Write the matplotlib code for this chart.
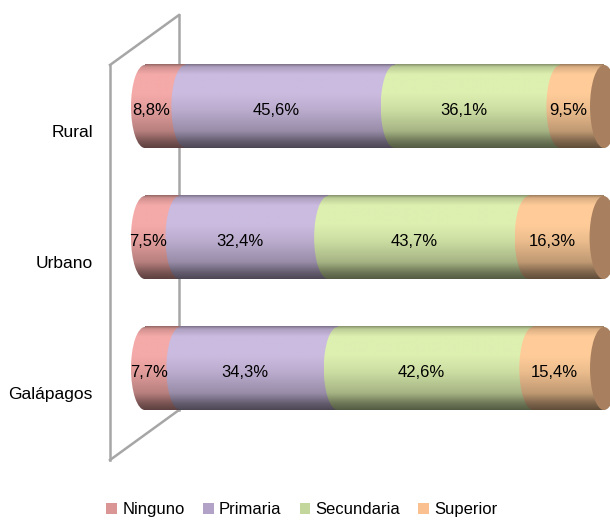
import numpy as np
import matplotlib
matplotlib.use("Agg")
import matplotlib.pyplot as plt
import matplotlib.transforms as mtransforms
from matplotlib.patches import Ellipse, Patch
from matplotlib.colors import to_rgb

plt.rcParams['font.family'] = ['Liberation Sans', 'DejaVu Sans']

# data (bottom to top)
categories = ['Galápagos', 'Urbano', 'Rural']
series = ['Ninguno', 'Primaria', 'Secundaria', 'Superior']
ninguno = [7.7, 7.5, 8.8]
primaria = [34.3, 32.4, 45.6]
secundaria = [42.6, 43.7, 36.1]
superior = [15.4, 16.3, 9.5]

bar_colors = ['#F4AAA8', '#CBBBE0', '#DDF0B0', '#FFCC99']
legend_colors = ['#D99694', '#B3A2C7', '#C3D69B', '#FAC090']
cap_color = '#A8805F'
frame_color = '#A6A6A6'

BAR_H = 0.634     # bar height in category units
HW = 3.05         # half width of the cylinder ellipse, in % units


# vertical shading of a cylinder, top row first
def shade(color, n=120):
    t = np.linspace(0, 1, n)
    knots = [0, 0.03, 0.12, 0.35, 0.55, 0.8, 0.92, 1]
    light = [-0.38, -0.15, 0, 0, -0.08, -0.25, -0.5, -0.62]
    L = np.interp(t, knots, light)
    base = np.array(to_rgb(color))
    img = base[None, :] * (1 + L)[:, None]
    return np.clip(img, 0, 1)[:, None, :]


fig = plt.figure(figsize=(6.1, 5.25), dpi=100)

# background frame (the 3D wall outline), in pixel coords
bg = fig.add_axes([0, 0, 1, 1])
bg.set_xlim(0, 610)
bg.set_ylim(525, 0)
bg.axis('off')
lw = 1.8
bg.plot([179, 179], [15, 410], color=frame_color, lw=lw)
bg.plot([110, 110], [65, 460], color=frame_color, lw=lw)
bg.plot([110, 179], [65, 15], color=frame_color, lw=lw)
bg.plot([110, 179], [460, 410], color=frame_color, lw=lw)

ax = fig.add_axes([0.1771, 0.1733, 0.8428, 0.7486])
ax.set_autoscale_on(False)
ax.set_xlim(-5, 107)
ax.set_ylim(-0.5, 2.5)
ax.axis('off')

label_tr = mtransforms.offset_copy(ax.transData, fig=fig, x=0, y=-4, units='dots')
cat_tr = mtransforms.offset_copy(ax.transData, fig=fig, x=-38, y=-26, units='dots')

values = [ninguno, primaria, secundaria, superior]
z = 2
for i, cat in enumerate(categories):
    y = i
    left = 0.0
    for j in range(len(series)):
        v = values[j][i]
        x0 = left + HW
        x1 = left + v + HW
        img = shade(bar_colors[j])
        ax.imshow(img, extent=[x0, x1, y - BAR_H / 2, y + BAR_H / 2],
                  aspect='auto', interpolation='bilinear', zorder=z)
        ell = Ellipse((x0, y), 2 * HW, BAR_H, transform=ax.transData)
        im = ax.imshow(img, extent=[x0 - HW, x0 + HW, y - BAR_H / 2, y + BAR_H / 2],
                       aspect='auto', interpolation='bilinear', zorder=z + 1)
        im.set_clip_path(ell)
        z += 2
        txt = ('%.1f' % v).replace('.', ',') + '%'
        ax.text(left + v / 2, y, txt, ha='center', va='center', fontsize=12,
                color='black', transform=label_tr, zorder=100)
        left += v
    # end face of the cylinder
    ax.add_patch(Ellipse((left + HW, y), 2 * HW, BAR_H, facecolor=cap_color,
                         edgecolor='none', zorder=z, clip_on=False))
    z += 1
    ax.text(0, y, cat, ha='right', va='center', fontsize=12.5, transform=cat_tr)

handles = [Patch(facecolor=c, edgecolor='none') for c in legend_colors]
fig.legend(handles, series, loc='lower center', bbox_to_anchor=(0.495, -0.014),
           ncol=4, frameon=False, fontsize=12, handlelength=0.65,
           handleheight=0.65, handletextpad=0.3, columnspacing=1.1)

fig.savefig('out.png', dpi=100)
